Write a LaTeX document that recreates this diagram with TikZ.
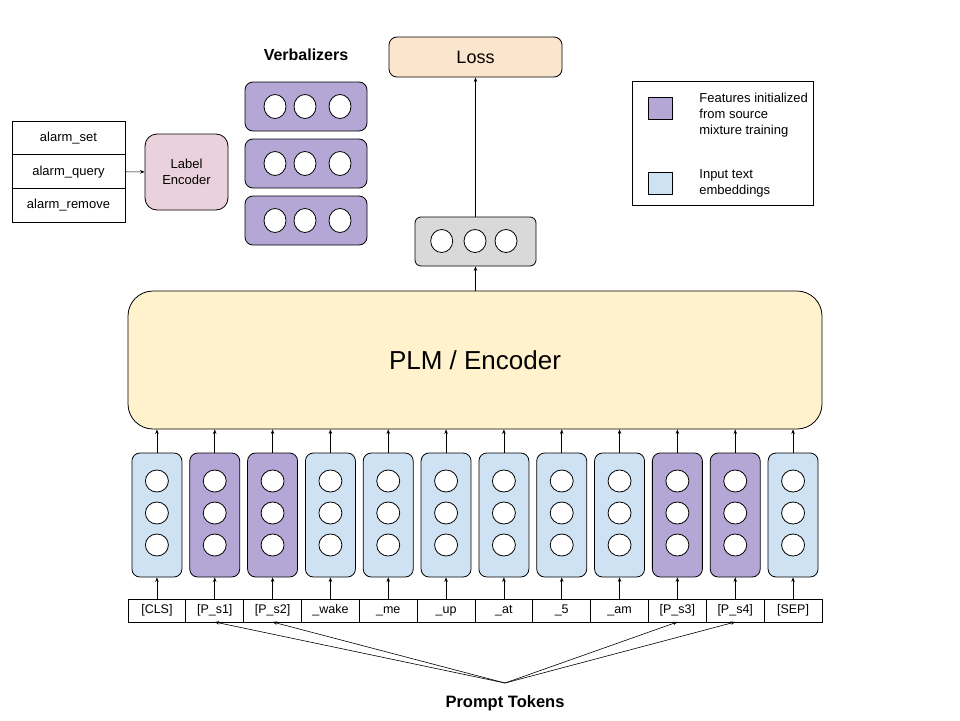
\documentclass[tikz,border=0pt]{standalone}
\usepackage{fontspec}
\setmainfont{Liberation Sans}
\usetikzlibrary{arrows.meta,positioning}

\definecolor{featpurple}{HTML}{B4A7D6}
\definecolor{embblue}{HTML}{CFE2F3}
\definecolor{plmyellow}{HTML}{FFF2CC}
\definecolor{losspeach}{HTML}{FCE5CD}
\definecolor{labelpink}{HTML}{EAD1DC}
\definecolor{outgray}{HTML}{D9D9D9}

\tikzset{
  arr/.style={-{Stealth[length=4.5pt,width=3.5pt]},line width=0.6pt},
  txt/.style={font=\fontsize{13}{16}\selectfont},
  tokcell/.style={draw,minimum width=57.83pt,minimum height=23pt,inner sep=0pt,outer sep=0pt,text height=9pt,text depth=2.5pt,font=\fontsize{12.5}{14}\selectfont},
  embcol/.style={draw,rounded corners=8pt,minimum width=50pt,minimum height=124pt,inner sep=0pt},
  verbbox/.style={draw,fill=featpurple,rounded corners=8pt,minimum width=122pt,minimum height=49pt,inner sep=0pt},
  labcell/.style={draw,txt,minimum width=113pt,minimum height=33.6pt,inner sep=0pt,outer sep=0pt,text height=9.5pt,text depth=2.5pt},
  keybox/.style={draw,minimum width=24pt,minimum height=22pt,inner sep=0pt},
  unit/.style={draw,fill=white},
}

\begin{document}
\begin{tikzpicture}[x=1pt,y=-1pt,line width=0.8pt]
\useasboundingbox (0,0) rectangle (960,720);

% label list and label encoder
\node[labcell] (r1) at (68.5,138) {alarm\_set};
\node[labcell,below=0pt of r1] (r2) {alarm\_query};
\node[labcell,below=0pt of r2] (r3) {alarm\_remove};
\node[draw,txt,fill=labelpink,rounded corners=12pt,minimum width=83pt,minimum height=76pt,align=center] (labenc) at (186.5,172) {Label\\Encoder};
\draw[arr] (r2) -- (labenc);

% verbalizers
\node[font=\fontsize{16}{18}\bfseries] (verbtitle) at (306,55) {Verbalizers};
\foreach \yv [count=\j] in {106.5,163.5,220.5}{
  \node[verbbox] (v\j) at (306,\yv) {};
  \foreach \xv in {275,305,340}
    \draw[unit] (\xv,\yv) ellipse (11pt and 12pt);
}

% plm, output and loss
\node[draw,fill=plmyellow,rounded corners=25pt,minimum width=694pt,minimum height=138pt,font=\fontsize{26}{30}\selectfont] (plm) at (475,360) {PLM / Encoder};
\node[draw,fill=outgray,rounded corners=6pt,minimum width=121pt,minimum height=49pt,inner sep=0pt] (out) at (475.5,241.5) {};
\foreach \xo in {441.7,475,506}
  \draw[unit] (\xo,241) ellipse (11pt and 11.5pt);
\node[draw,fill=losspeach,rounded corners=8pt,minimum width=173pt,minimum height=40pt,font=\fontsize{18}{20}\selectfont] (loss) at (475.5,57) {Loss};
\draw[arr] (plm.north -| out) -- (out);
\draw[arr] (out) -- (loss);

% legend
\node[draw,minimum width=181pt,minimum height=124pt] (legend) at (722.5,143) {};
\node[keybox,fill=featpurple] (featkey) at (660,108) {};
\node[keybox,fill=embblue] (embkey) at (660,183) {};
\node[txt,align=left,anchor=west,inner sep=0pt] (feattext) at (699,115) {Features initialized\\from source\\mixture training};
\node[txt,align=left,anchor=west,inner sep=0pt] (embtext) at (699,183) {Input text\\embeddings};

% tokens and embeddings
\foreach \tok/\col [count=\i] in {{[CLS]}/embblue,{[P\_s1]}/featpurple,{[P\_s2]}/featpurple,{\_wake}/embblue,{\_me}/embblue,{\_up}/embblue,{\_at}/embblue,{\_5}/embblue,{\_am}/embblue,{[P\_s3]}/featpurple,{[P\_s4]}/featpurple,{[SEP]}/embblue}{
  \pgfmathsetmacro{\xc}{128+57.83*(\i-0.5)}
  \node[tokcell] (t\i) at (\xc,610.5) {\tok};
  \node[embcol,fill=\col] (c\i) at (\xc,515) {};
  \foreach \yc in {481,513,545}
    \draw[unit] (\xc,\yc) ellipse (11.5pt and 11pt);
  \draw[arr] (t\i) -- (c\i);
  \draw[arr] (c\i) -- (c\i.north |- plm.south);
}

% prompt tokens
\node[font=\fontsize{16.5}{18}\bfseries] (prompt) at (505,703) {Prompt Tokens};
\coordinate (pt) at (505,683);
\foreach \k in {2,3,10,11}
  \draw[arr] (pt) -- (t\k.south);

\end{tikzpicture}
\end{document}
